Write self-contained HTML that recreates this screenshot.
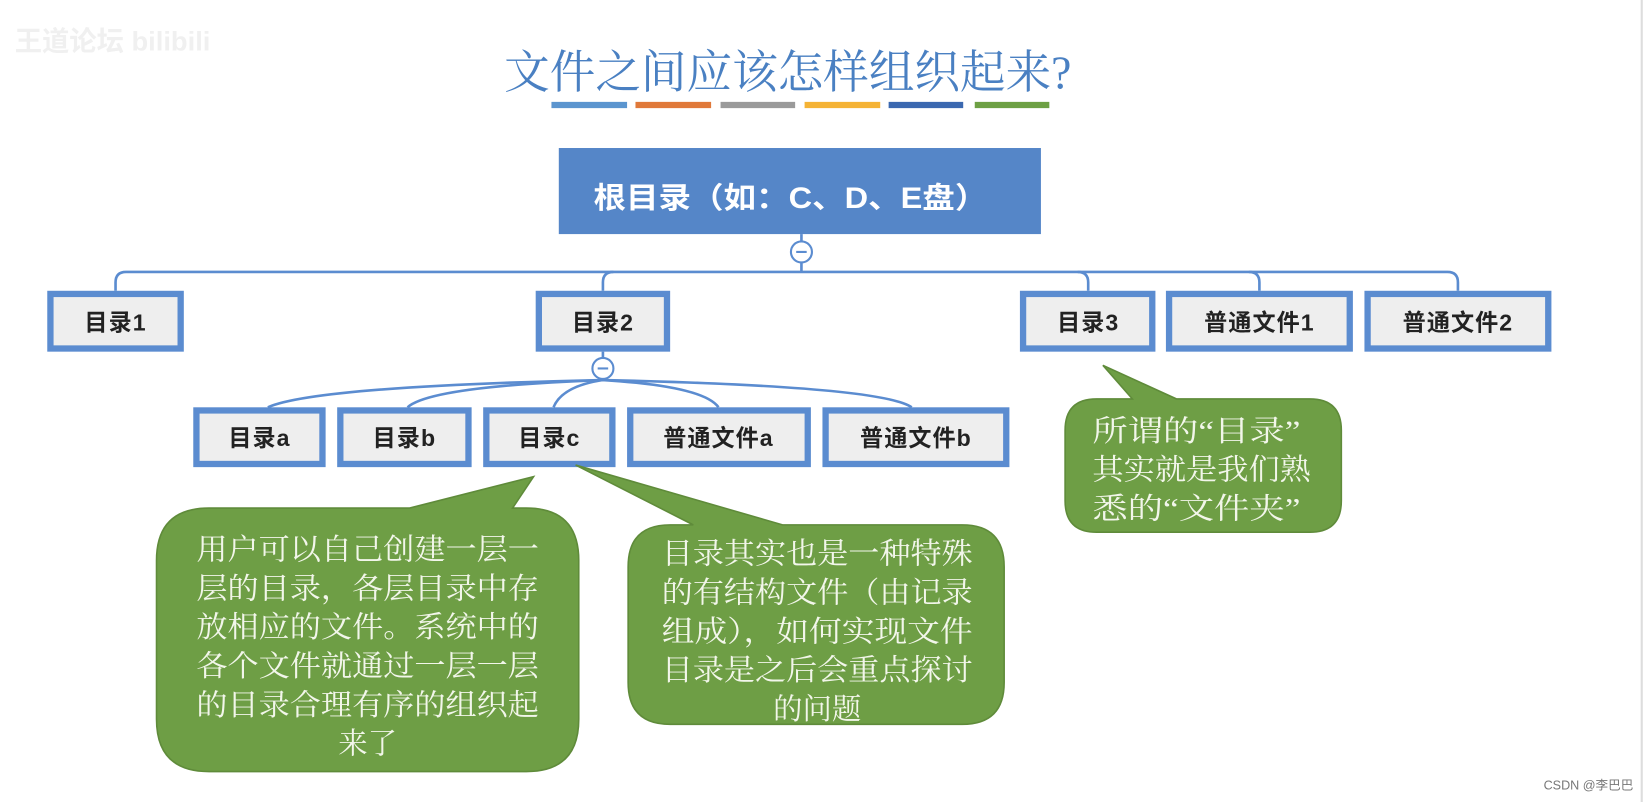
<!DOCTYPE html>
<html><head><meta charset="utf-8"><style>
html,body{margin:0;padding:0;background:#fff;width:1647px;height:802px;overflow:hidden}
svg{display:block}
.b{font-family:"Liberation Sans","Noto Sans CJK SC",sans-serif;font-weight:bold;font-size:22px;fill:#222;text-anchor:middle;letter-spacing:1px}
.c{font-family:"Liberation Serif","Noto Serif CJK SC",serif;font-size:28px;fill:#f2f6ea}
</style></head><body>
<svg width="1647" height="802" viewBox="0 0 1568 764" preserveAspectRatio="none">
<rect width="1568" height="764" fill="#fff"/>
<text x="14" y="48" font-family="Liberation Sans,Noto Sans CJK SC,sans-serif" font-size="26" font-weight="bold" fill="#f0f0f0">王道论坛 bilibili</text>
<text x="480" y="84" textLength="540" lengthAdjust="spacingAndGlyphs" font-family="Liberation Serif,Noto Serif CJK SC,serif" font-size="44" fill="#4a80c2">文件之间应该怎样组织起来?</text>
<g stroke-width="6">
<line x1="525" y1="100" x2="597" y2="100" stroke="#5b95cf"/>
<line x1="605" y1="100" x2="677" y2="100" stroke="#e0793a"/>
<line x1="686" y1="100" x2="757" y2="100" stroke="#9a9a9a"/>
<line x1="766" y1="100" x2="838" y2="100" stroke="#f5b335"/>
<line x1="846" y1="100" x2="917" y2="100" stroke="#3b68b0"/>
<line x1="928" y1="100" x2="999" y2="100" stroke="#6da044"/>
</g>
<rect x="532" y="141" width="459" height="82" fill="#5586c8"/>
<text x="565" y="198" textLength="375" lengthAdjust="spacingAndGlyphs" font-family="Liberation Sans,Noto Sans CJK SC,sans-serif" font-weight="bold" font-size="28" fill="#fff">根目录（如：C、D、E盘）</text>
<g fill="none" stroke="#5b8cd0" stroke-width="2.5">
<line x1="763" y1="223" x2="763" y2="259"/>
<path d="M110 277 V269 Q110 259 120 259 H1378 Q1388 259 1388 269 V277"/>
<path d="M574 277 V269 Q574 259 584 259"/>
<path d="M1036 277 V269 Q1036 259 1026 259"/>
<path d="M1199 277 V269 Q1199 259 1189 259"/>
<line x1="574" y1="335" x2="574" y2="362"/>
<path d="M574 362 Q300 368 255 388"/>
<path d="M574 362 Q410 368 388 388"/>
<path d="M574 362 Q535 368 527 388"/>
<path d="M574 362 Q670 368 684 388"/>
<path d="M574 362 Q840 368 868 388"/>
</g>
<circle cx="763" cy="240" r="10" fill="#fff" stroke="#5b8cd0" stroke-width="2"/>
<line x1="758" y1="240" x2="768" y2="240" stroke="#5b8cd0" stroke-width="2"/>
<circle cx="574" cy="351" r="10" fill="#fff" stroke="#5b8cd0" stroke-width="2"/>
<line x1="569" y1="351" x2="579" y2="351" stroke="#5b8cd0" stroke-width="2"/>
<g fill="#eeeeee" stroke="#5b8cd0" stroke-width="6">
<rect x="48" y="280" width="124" height="52"/>
<rect x="513" y="280" width="122" height="52"/>
<rect x="974" y="280" width="123" height="52"/>
<rect x="1113" y="280" width="172" height="52"/>
<rect x="1302" y="280" width="172" height="52"/>
<rect x="187" y="391" width="120" height="51"/>
<rect x="324" y="391" width="122" height="51"/>
<rect x="463" y="391" width="120" height="51"/>
<rect x="600" y="391" width="169" height="51"/>
<rect x="786" y="391" width="172" height="51"/>
</g>
<text class="b" x="110" y="315">目录1</text>
<text class="b" x="574" y="315">目录2</text>
<text class="b" x="1036" y="315">目录3</text>
<text class="b" x="1199" y="315">普通文件1</text>
<text class="b" x="1388" y="315">普通文件2</text>
<text class="b" x="247" y="425">目录a</text>
<text class="b" x="385" y="425">目录b</text>
<text class="b" x="523" y="425">目录c</text>
<text class="b" x="684" y="425">普通文件a</text>
<text class="b" x="872" y="425">普通文件b</text>
<g fill="#6e9e45" stroke="#5f8b3a" stroke-width="1.5">
<path d="M1044 380 L1078 380 L1050 348 L1120 380 H1247 Q1277 380 1277 410 V477 Q1277 507 1247 507 H1044 Q1014 507 1014 477 V410 Q1014 380 1044 380 Z"/>
<path d="M199 484 H390 L508 454 L488 484 H501 Q551 484 551 534 V685 Q551 735 501 735 H199 Q149 735 149 685 V534 Q149 484 199 484 Z"/>
<path d="M638 500 H660 L548 443 L745 500 H916 Q956 500 956 540 V650 Q956 690 916 690 H638 Q598 690 598 650 V540 Q598 500 638 500 Z"/>
</g>
<text class="c" x="1040" y="420" textLength="198" lengthAdjust="spacingAndGlyphs">所谓的“目录”</text>
<text class="c" x="1040" y="457" textLength="208" lengthAdjust="spacingAndGlyphs">其实就是我们熟</text>
<text class="c" x="1040" y="494" textLength="198" lengthAdjust="spacingAndGlyphs">悉的“文件夹”</text>
<text class="c" x="187" y="533" textLength="326" lengthAdjust="spacingAndGlyphs">用户可以自己创建一层一</text>
<text class="c" x="187" y="570" textLength="326" lengthAdjust="spacingAndGlyphs">层的目录，各层目录中存</text>
<text class="c" x="187" y="607" textLength="326" lengthAdjust="spacingAndGlyphs">放相应的文件。系统中的</text>
<text class="c" x="187" y="644" textLength="326" lengthAdjust="spacingAndGlyphs">各个文件就通过一层一层</text>
<text class="c" x="187" y="681" textLength="326" lengthAdjust="spacingAndGlyphs">的目录合理有序的组织起</text>
<text class="c" x="350" y="718" text-anchor="middle">来了</text>
<text class="c" x="630" y="537" textLength="296" lengthAdjust="spacingAndGlyphs">目录其实也是一种特殊</text>
<text class="c" x="630" y="574" textLength="296" lengthAdjust="spacingAndGlyphs">的有结构文件（由记录</text>
<text class="c" x="630" y="611" textLength="296" lengthAdjust="spacingAndGlyphs">组成），如何实现文件</text>
<text class="c" x="630" y="648" textLength="296" lengthAdjust="spacingAndGlyphs">目录是之后会重点探讨</text>
<text class="c" x="778" y="685" text-anchor="middle">的问题</text>
<line x1="1563" y1="0" x2="1563" y2="764" stroke="#ddd" stroke-width="2"/>
<text x="1555" y="752" text-anchor="end" font-family="Liberation Sans,Noto Sans CJK SC,sans-serif" font-size="12" fill="#777">CSDN @李巴巴</text>
</svg>
</body></html>
